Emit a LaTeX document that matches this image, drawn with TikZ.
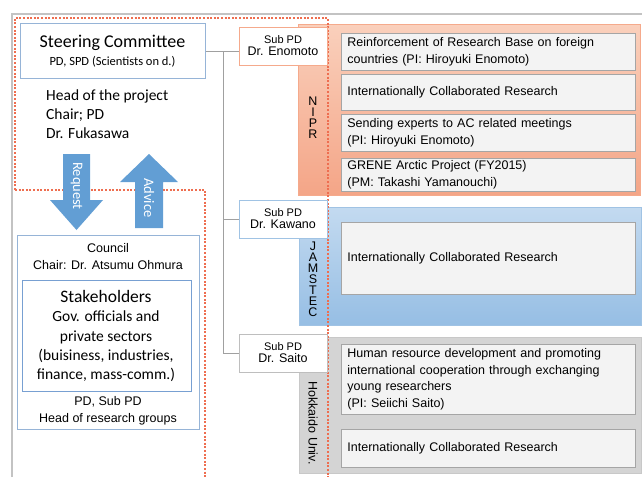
\documentclass[tikz,border=0pt]{standalone}
\usepackage{fontspec}
\setmainfont{Liberation Sans}
\newfontfamily\calfont{Carlito}
\definecolor{framegray}{RGB}{195,195,195}
\definecolor{conngray}{RGB}{160,160,160}
\definecolor{reddash}{RGB}{238,110,80}
\definecolor{steerblue}{RGB}{150,180,215}
\definecolor{stakeblue}{RGB}{120,160,210}
\definecolor{orangeborder}{RGB}{245,170,140}
\definecolor{orangetop}{RGB}{250,208,188}
\definecolor{orangebot}{RGB}{244,165,135}
\definecolor{bluetop}{RGB}{195,218,240}
\definecolor{bluebot}{RGB}{150,190,228}
\definecolor{blueborder}{RGB}{160,195,228}
\definecolor{hokgray}{RGB}{212,212,212}
\definecolor{hokborder}{RGB}{200,200,200}
\definecolor{boxfill}{RGB}{243,243,243}
\definecolor{boxgray}{RGB}{165,165,165}
\definecolor{arrowblue}{RGB}{98,158,212}
\definecolor{subgray}{RGB}{190,190,190}
\tikzset{
  inbox/.style={draw=boxgray, fill=boxfill, line width=0.8pt, rectangle, anchor=north west,
    minimum width=294pt, inner xsep=6pt, inner ysep=0pt, text width=282pt, align=left,
    font=\fontsize{12.5}{16.5}\selectfont},
  subpd/.style={rectangle, fill=white, line width=1pt, minimum width=88pt, minimum height=38pt,
    inner sep=0pt, align=center},
  conn/.style={draw=conngray, line width=1pt},
  dashline/.style={draw=reddash, line width=1.3pt, dash pattern=on 2pt off 1.6pt},
  bigarrow/.style={fill=arrowblue, draw=none},
  plain/.style={inner sep=0pt},
}
\begin{document}
\begin{tikzpicture}[x=1pt,y=-1pt]
\useasboundingbox (0,0) rectangle (642,477);
% outer frame
\draw[framegray, line width=1.2pt] (12,477) -- (12,14) -- (642,14);
% region boxes
\node[rectangle, draw=orangeborder, line width=1pt, top color=orangetop, bottom color=orangebot,
  minimum width=342pt, minimum height=171pt, anchor=north west, inner sep=0pt] (nipr) at (298,24) {};
\node[rectangle, draw=blueborder, line width=1pt, top color=bluetop, bottom color=bluebot,
  minimum width=342pt, minimum height=118pt, anchor=north west, inner sep=0pt] (jamstec) at (299,207) {};
\node[rectangle, draw=hokborder, line width=1pt, fill=hokgray,
  minimum width=342pt, minimum height=136pt, anchor=north west, inner sep=0pt] (hokkaido) at (299,337) {};
% inner boxes
\node[inbox, minimum height=37pt] (b1) at (341,33) {Reinforcement of Research Base on foreign\\countries (PI: Hiroyuki Enomoto)};
\node[inbox, minimum height=36pt] (b2) at (341,74) {Internationally Collaborated Research};
\node[inbox, minimum height=37pt] (b3) at (341,114) {Sending experts to AC related meetings\\(PI: Hiroyuki Enomoto)};
\node[inbox, minimum height=33pt] (b4) at (341,158) {GRENE Arctic Project (FY2015)\\(PM: Takashi Yamanouchi)};
\node[inbox, minimum height=72pt, minimum width=292pt] (b5) at (341,222) {Internationally Collaborated Research};
\node[inbox, minimum height=70pt, minimum width=293pt] (b6) at (341,344) {Human resource development and promoting\\international cooperation through exchanging\\young researchers\\(PI: Seiichi Saito)};
\node[inbox, minimum height=38pt, minimum width=293pt] (b7) at (341,429) {Internationally Collaborated Research};
% vertical labels
\node[plain, align=center, font=\fontsize{12.5}{11}\selectfont] (lnipr) at (313,118) {N\\I\\P\\R};
\node[plain, align=center, font=\fontsize{12.5}{11}\selectfont] (ljam) at (313,279) {J\\A\\M\\S\\T\\E\\C};
\node[plain, rotate=-90, font=\fontsize{12.5}{15}\selectfont] (lhok) at (313,423) {Hokkaido Univ.};
% red dashed outline
\draw[dashline] (15,190) -- (15,18) -- (328,18) -- (328,477);
\draw[dashline] (15,190) -- (205,190) -- (205,477);
% steering committee
\node[rectangle, draw=steerblue, line width=1pt, fill=white, minimum width=185pt, minimum height=55pt,
  anchor=north west, inner sep=0pt] (steer) at (20,23) {};
\node[plain, font=\calfont\fontsize{18}{20}\selectfont] (stitle) at (112.5,43) {Steering Committee};
\node[plain, font=\calfont\fontsize{12.5}{14}\selectfont] (ssub) at (112.5,62) {PD, SPD (Scientists on d.)};
\node[plain, anchor=north west, align=left, font=\calfont\fontsize{15.5}{19}\selectfont] (head) at (46,90)
  {Head of the project\\Chair; PD\\Dr. Fukasawa};
% arrows
\path[bigarrow] (63,154) -- (90,154) -- (90,200) -- (103,200) -- (76.5,230) -- (50,200) -- (63,200) -- cycle;
\path[bigarrow] (135,228) -- (163,228) -- (163,182) -- (178,182) -- (149,154) -- (120,182) -- (135,182) -- cycle;
\node[plain, rotate=-90, text=white, font=\calfont\fontsize{14.5}{16}\selectfont] (lreq) at (76.5,186) {Request};
\node[plain, rotate=-90, text=white, font=\calfont\fontsize{14.5}{16}\selectfont] (ladv) at (149,198) {Advice};
% council
\node[rectangle, draw=steerblue, line width=1pt, fill=white, minimum width=182pt, minimum height=194pt,
  anchor=north west, inner sep=0pt] (council) at (17,235) {};
\node[plain, font=\fontsize{12.5}{15}\selectfont] (ctitle) at (108,248) {Council};
\node[plain, font=\fontsize{12.5}{15}\selectfont] (cchair) at (108,265) {Chair: Dr. Atsumu Ohmura};
\node[rectangle, draw=stakeblue, line width=1pt, minimum width=169pt, minimum height=111pt,
  anchor=north west, inner sep=0pt] (stake) at (22,280) {};
\node[plain, font=\calfont\fontsize{17.5}{20}\selectfont] (stitle2) at (106,296) {Stakeholders};
\node[plain, align=center, anchor=north, font=\calfont\fontsize{15.5}{19.3}\selectfont] (sbody) at (106,311)
  {Gov. officials and\\private sectors\\(buisiness, industries,\\finance, mass-comm.)};
\node[plain, font=\fontsize{12.5}{15}\selectfont] (cpd) at (108,402) {PD, Sub PD};
\node[plain, font=\fontsize{12.5}{15}\selectfont] (chead) at (108,419) {Head of research groups};
% sub PD boxes
\node[subpd, draw=orangeborder] (enomoto) at (283,46) {\fontsize{11}{14}\selectfont Sub PD\\\fontsize{12.5}{14}\selectfont Dr. Enomoto};
\node[subpd, draw=blueborder] (kawano) at (283,219) {\fontsize{11}{14}\selectfont Sub PD\\\fontsize{12.5}{14}\selectfont Dr. Kawano};
\node[subpd, draw=subgray] (saito) at (283,353) {\fontsize{11}{14}\selectfont Sub PD\\\fontsize{12.5}{14}\selectfont Dr. Saito};
% connectors
\coordinate (jn) at (223,51);
\draw[conn] (steer.east |- jn) -- (enomoto.west |- jn);
\draw[conn] (jn) |- (kawano.west);
\draw[conn] (jn) |- (saito.west);
\end{tikzpicture}
\end{document}
